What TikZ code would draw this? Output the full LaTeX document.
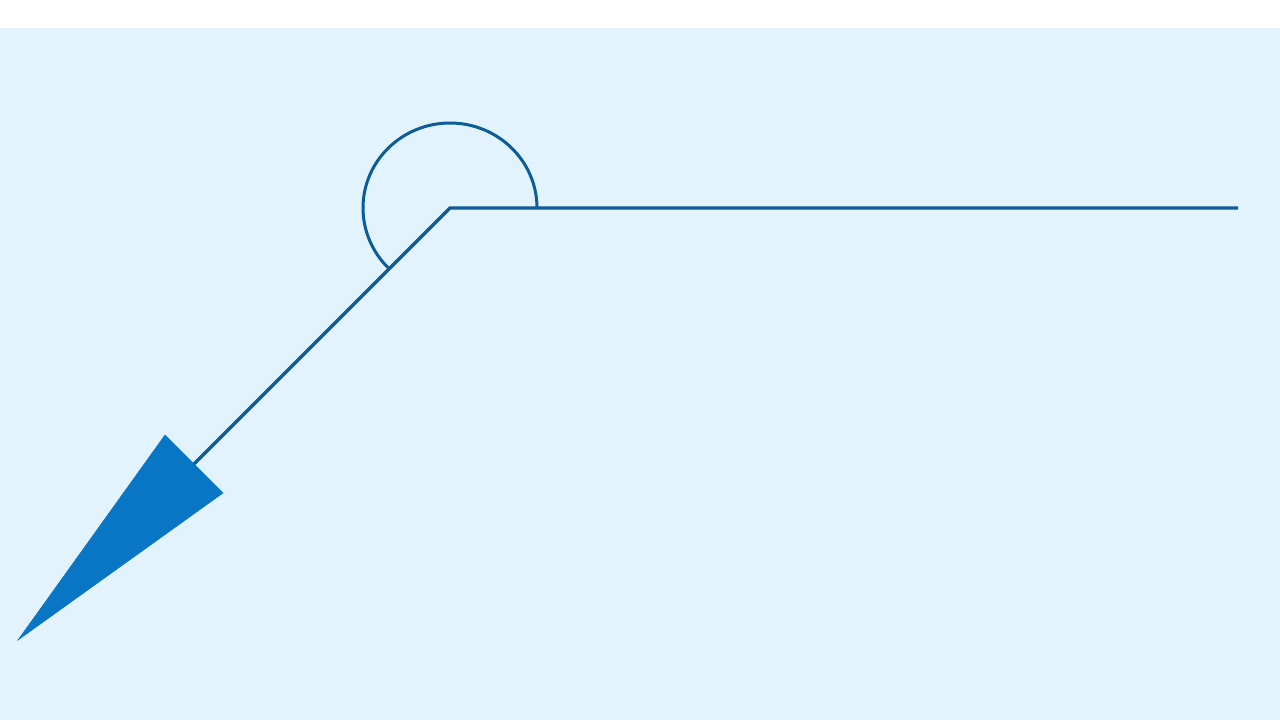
\documentclass[tikz,border=0pt]{standalone}
\definecolor{bgblue}{HTML}{E2F3FD}
\definecolor{linecol}{HTML}{0B5C97}
\definecolor{headcol}{HTML}{0875C5}
\begin{document}
\begin{tikzpicture}[x=1pt,y=-1pt,
  ray/.style={draw=linecol,line width=3.2pt},
  anglearc/.style={draw=linecol,line width=3pt},
  headfill/.style={fill=headcol,draw=headcol,line width=0.5pt,line join=miter}]
\fill[white] (0,0) rectangle (1280,720);
\fill[bgblue] (0,28) rectangle (1280,720);
\useasboundingbox (0,0) rectangle (1280,720);
\coordinate (V) at (450,208);
\coordinate (E) at (1238,208);
\coordinate (B) at (194,464);
\coordinate (T) at (18,640);
\coordinate (H1) at (165,435);
\coordinate (H2) at (223,493);
\draw[ray] (E) -- (V) -- (B);
\fill[headfill] (T) -- (H1) -- (H2) -- cycle;
\draw[anglearc] (537,208) arc[start angle=0,end angle=-225,x radius=87,y radius=85];
\end{tikzpicture}
\end{document}
